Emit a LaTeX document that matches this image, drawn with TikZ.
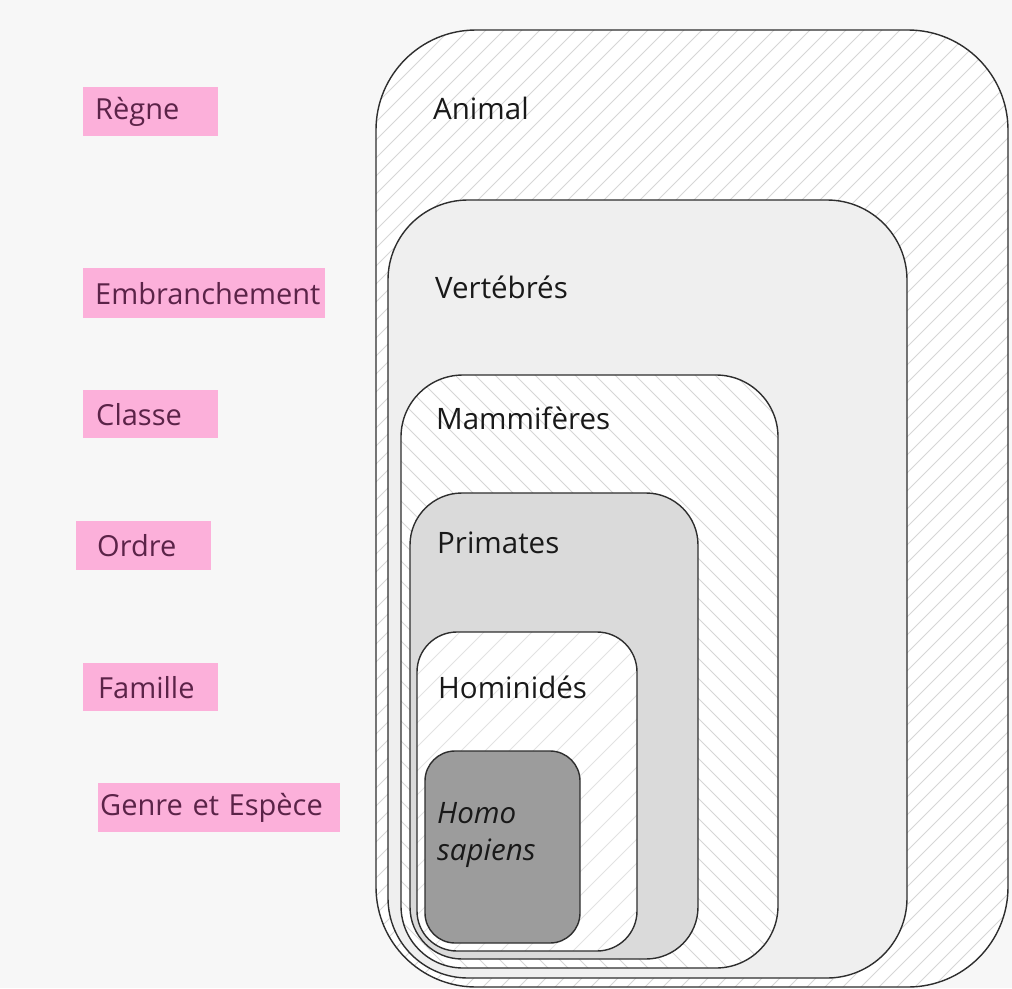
\documentclass[tikz,border=0pt]{standalone}
\usepackage{fontspec}
\setmainfont{Open Sans}
\definecolor{pinkbg}{HTML}{FCB0DA}
\definecolor{pinktxt}{HTML}{5B2348}
\definecolor{hatch}{HTML}{D6D6D6}
\definecolor{vertfill}{HTML}{EFEFEF}
\definecolor{primfill}{HTML}{DADADA}
\definecolor{homofill}{HTML}{9C9C9C}
\definecolor{edge}{HTML}{2E2E2E}
\tikzset{
  rank/.style={fill=pinkbg, text=pinktxt, anchor=north west, inner ysep=0pt,
    align=left, font=\fontsize{29}{32}\selectfont},
  taxon/.style={anchor=west, inner sep=0pt, text=black!90, font=\fontsize{29.5}{32}\selectfont},
  border/.style={draw=edge, line width=1.4pt},
  hatchline/.style={draw=hatch, line width=0.8pt}
}
\begin{document}
\begin{tikzpicture}[x=1pt,y=-1pt]
\useasboundingbox (0,0) rectangle (1012,988);
\fill[white!97!black] (0,0) rectangle (1012,988);
% Animal
\fill[white, rounded corners=100pt] (376,30) rectangle (1008,987);
\begin{scope}
  \clip[rounded corners=100pt] (376,30) rectangle (1008,987);
  \foreach \k in {-700,-682,...,1100} \draw[hatchline] (\k,1000) -- ++(1000,-1000);
\end{scope}
\draw[border, rounded corners=100pt] (376,30) rectangle (1008,987);
% Vertebres
\filldraw[border, fill=vertfill, rounded corners=80pt] (388,200) rectangle (907,978);
% Mammiferes
\fill[white, rounded corners=62pt] (401,375) rectangle (778,968);
\begin{scope}
  \clip[rounded corners=62pt] (401,375) rectangle (778,968);
  \foreach \k in {-700,-680,...,900} \draw[hatchline] (\k,300) -- ++(1000,1000);
\end{scope}
\draw[border, rounded corners=62pt] (401,375) rectangle (778,968);
% Primates
\filldraw[border, fill=primfill, rounded corners=52pt] (410,493) rectangle (698,959);
% Hominides
\fill[white, rounded corners=40pt] (417,632) rectangle (637,951);
\begin{scope}
  \clip[rounded corners=40pt] (417,632) rectangle (637,951);
  \foreach \k in {-100,-76,...,700} \draw[hatchline, draw=hatch!70] (\k,1000) -- ++(1000,-1000);
\end{scope}
\draw[border, rounded corners=40pt] (417,632) rectangle (637,951);
% Homo sapiens
\filldraw[border, fill=homofill, rounded corners=30pt] (425,751) rectangle (580,943);

% taxon names
\node[taxon] (animal) at (433,108) {Animal};
\node[taxon] (vert) at (435,287) {Vertébrés};
\node[taxon] (mamm) at (436,418) {Mammifères};
\node[taxon] (prim) at (437,543) {Primates};
\node[taxon] (homin) at (438,687) {Hominidés};
\node[taxon, anchor=north west, align=left, font=\fontsize{29.5}{37}\selectfont\itshape] (homo) at (437,802) {Homo\\sapiens};

% rank labels
\node[rank, inner xsep=12pt, minimum width=135pt, minimum height=49pt, text width=111pt] (regne) at (83,87) {Règne};
\node[rank, inner xsep=12pt, minimum width=242pt, minimum height=50pt, text width=218pt] (embr) at (83,268) {Embranchement};
\node[rank, inner xsep=13pt, minimum width=135pt, minimum height=48pt, text width=109pt] (classe) at (83,390) {Classe};
\node[rank, inner xsep=21pt, minimum width=135pt, minimum height=49pt, text width=93pt] (ordre) at (76,521) {Ordre};
\node[rank, inner xsep=15pt, minimum width=135pt, minimum height=48pt, text width=105pt] (famille) at (83,663) {Famille};
\node[rank, inner xsep=2pt, minimum width=242pt, minimum height=49pt, text width=238pt] (genre) at (98,783) {Genre et Espèce};
\end{tikzpicture}
\end{document}
